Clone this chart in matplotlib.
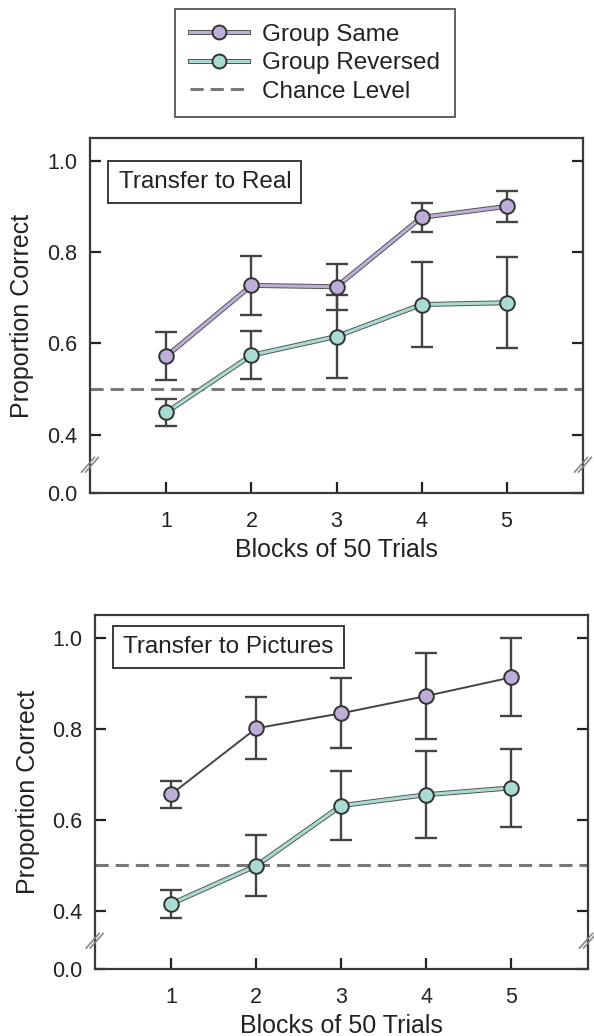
import matplotlib.pyplot as plt
import matplotlib.patheffects as pe
from matplotlib.lines import Line2D
from matplotlib.legend_handler import HandlerTuple
import matplotlib.transforms as mtransforms

plt.rcParams['font.family'] = ['Liberation Sans', 'DejaVu Sans']

blocks = [1, 2, 3, 4, 5]

# Transfer to Real
real_same = [0.572, 0.727, 0.724, 0.876, 0.900]
real_same_err = [0.052, 0.064, 0.050, 0.031, 0.034]
real_rev = [0.449, 0.574, 0.615, 0.685, 0.689]
real_rev_err = [0.030, 0.053, 0.090, 0.094, 0.100]

# Transfer to Pictures
pic_same = [0.656, 0.801, 0.834, 0.872, 0.913]
pic_same_err = [0.030, 0.068, 0.077, 0.095, 0.086]
pic_rev = [0.415, 0.499, 0.631, 0.655, 0.670]
pic_rev_err = [0.030, 0.067, 0.076, 0.095, 0.086]

chance = 0.5
ytick_vals = [0.0, 0.4, 0.6, 0.8, 1.0]
ytick_labels = ['0.0', '0.4', '0.6', '0.8', '1.0']

purple = '#bcaed8'
teal = '#a8dcd2'
dark = '#3a3a3a'
BREAK_ZERO = 0.272  # where 0.0 sits on the broken axis
DASH = (0, (4.3, 2.3))


def ypos(v):
    # broken axis: 0.0 is drawn just below 0.4
    return v if v >= 0.4 else BREAK_ZERO


fig = plt.figure(figsize=(5.94, 10.36), dpi=100)
ax1 = fig.add_axes([0.1515, 0.5241, 0.830, 0.3427])
ax2 = fig.add_axes([0.1594, 0.0647, 0.8305, 0.3417])

outline = [pe.Stroke(linewidth=3.6, foreground='#555555'), pe.Normal()]


def draw_series(ax, y, err, color, line_plain=False):
    if line_plain:
        ax.plot(blocks, y, color='#444444', lw=1.4, zorder=2)
    else:
        ax.plot(blocks, y, color=color, lw=2.2, path_effects=outline, zorder=2)
    ax.errorbar(blocks, y, yerr=err, fmt='none', ecolor='#444444',
                elinewidth=1.7, capsize=8, capthick=1.7, zorder=3)
    ax.plot(blocks, y, 'o', ms=10.5, mfc=color, mec='#333333', mew=1.4, zorder=4)


def style_axis(ax, label, box_y, ylab_x):
    ax.set_xlim(0.1, 5.9)
    ax.set_ylim(BREAK_ZERO, 1.05)
    ax.axhline(chance, color='#777777', lw=2.2, ls=DASH, zorder=1)
    ax.set_xticks(blocks)
    ax.set_yticks([ypos(v) for v in ytick_vals])
    ax.set_yticklabels(ytick_labels)
    ax.tick_params(axis='both', direction='in', length=8, width=1.6,
                   labelsize=15.5, colors='#222222')
    ax.tick_params(axis='x', pad=13)
    ax.tick_params(axis='y', right=True, pad=9)
    for s in ax.spines.values():
        s.set_linewidth(1.6)
        s.set_color(dark)
    ax.set_ylabel('Proportion Correct', fontsize=18, color='#222222', va='center')
    ax.yaxis.set_label_coords(ylab_x, 0.5)
    ax.set_xlabel('Blocks of 50 Trials', fontsize=18, color='#222222', va='center')
    ax.xaxis.set_label_coords(0.5, -0.161)
    ax.text(0.058, box_y, label, transform=ax.transAxes, fontsize=17.5,
            color='#222222', va='center', ha='left',
            bbox=dict(boxstyle='square,pad=0.42', fc='white', ec=dark, lw=1.4))
    # break marks on both vertical spines
    tr = mtransforms.blended_transform_factory(ax.transAxes, ax.transData)
    for xa in (0.0, 1.0):
        for off in (-0.004, 0.004):
            ax.plot([xa - 0.013 + off, xa + 0.013 + off], [0.318, 0.350], transform=tr,
                    color='#888888', lw=1.2, clip_on=False, zorder=5)


draw_series(ax1, real_same, real_same_err, purple)
draw_series(ax1, real_rev, real_rev_err, teal)
style_axis(ax1, 'Transfer to Real', 0.876, -0.138)

draw_series(ax2, pic_same, pic_same_err, purple, line_plain=True)
draw_series(ax2, pic_rev, pic_rev_err, teal)
style_axis(ax2, 'Transfer to Pictures', 0.91, -0.135)

h_same = (Line2D([], [], color=purple, lw=2.2, path_effects=outline),
          Line2D([], [], ls='none', marker='o', ms=10, mfc=purple, mec='#333333', mew=1.4))
h_rev = (Line2D([], [], color=teal, lw=2.2, path_effects=outline),
         Line2D([], [], ls='none', marker='o', ms=10, mfc=teal, mec='#333333', mew=1.4))
h_ch = Line2D([], [], color='#777777', lw=2.2, ls=DASH)
leg = fig.legend([h_same, h_rev, h_ch], ['Group Same', 'Group Reversed', 'Chance Level'],
                 handler_map={tuple: HandlerTuple(ndivide=1, pad=0)},
                 loc='upper left', bbox_to_anchor=(175 / 594, 1 - 9 / 1036),
                 fontsize=17.5, frameon=True, fancybox=False, handlelength=2.4,
                 handletextpad=0.58, labelspacing=0.27, borderpad=0.6, borderaxespad=0)
leg.get_frame().set_edgecolor(dark)
leg.get_frame().set_linewidth(1.4)
for t in leg.get_texts():
    t.set_color('#222222')

fig.savefig('out.png', dpi=100)
